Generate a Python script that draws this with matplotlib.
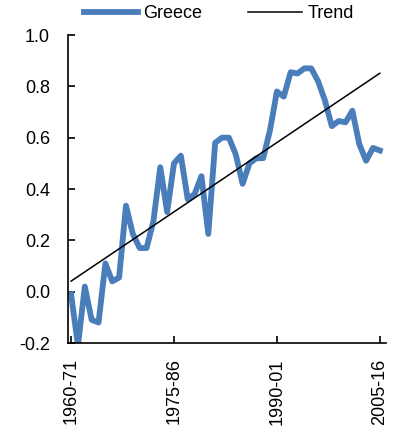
import numpy as np
import matplotlib.pyplot as plt

plt.rcParams['font.family'] = ['Liberation Sans', 'DejaVu Sans']

# rolling 11-year windows, 1960-71 ... 2005-16
start_years = list(range(1960, 2006))
greece = [-0.01, -0.21, 0.02, -0.11, -0.12, 0.11, 0.04, 0.055, 0.335, 0.225,
          0.17, 0.17, 0.275, 0.485, 0.31, 0.50, 0.53, 0.36, 0.38, 0.45,
          0.225, 0.58, 0.60, 0.60, 0.535, 0.42, 0.50, 0.52, 0.52, 0.63,
          0.78, 0.76, 0.855, 0.85, 0.87, 0.87, 0.82, 0.745, 0.645, 0.665,
          0.66, 0.705, 0.575, 0.51, 0.56, 0.55]
tick_labels = ["1960-71", "1975-86", "1990-01", "2005-16"]
tick_pos = [0, 15, 30, 45]

x = np.arange(len(greece))
coef = np.polyfit(x, greece, 1)
trend = np.polyval(coef, x)

fig = plt.figure(figsize=(4.05, 4.33), dpi=100)
ax = fig.add_axes([68/405, 90/433, (386-68)/405, (343-35)/433])

ax.plot(x, greece, color='#4a7ebb', lw=4.2, label='Greece', solid_joinstyle='round')
ax.plot(x, trend, color='black', lw=1.1, label='Trend')

ax.set_ylim(-0.2, 1.0)
ax.set_xlim(-0.45, 45.9)
ax.set_yticks(np.arange(-0.2, 1.01, 0.2))
ax.set_yticklabels([f"{v:.1f}" for v in np.arange(-0.2, 1.01, 0.2)])
ax.set_xticks(tick_pos)
ax.set_xticklabels(tick_labels, rotation=90)
ax.tick_params(axis='both', direction='in', length=5, width=1.2, labelsize=13)
ax.tick_params(axis='y', pad=13)
ax.tick_params(axis='x', pad=11)
for s in ['top', 'right']:
    ax.spines[s].set_visible(False)
for s in ['left', 'bottom']:
    ax.spines[s].set_linewidth(1.2)

fig.legend(loc='center', bbox_to_anchor=(0.54, 0.968), ncol=2, frameon=False,
           fontsize=13, handlelength=3.0, handletextpad=0.3, columnspacing=2.5)

fig.savefig('out.png', dpi=100)
